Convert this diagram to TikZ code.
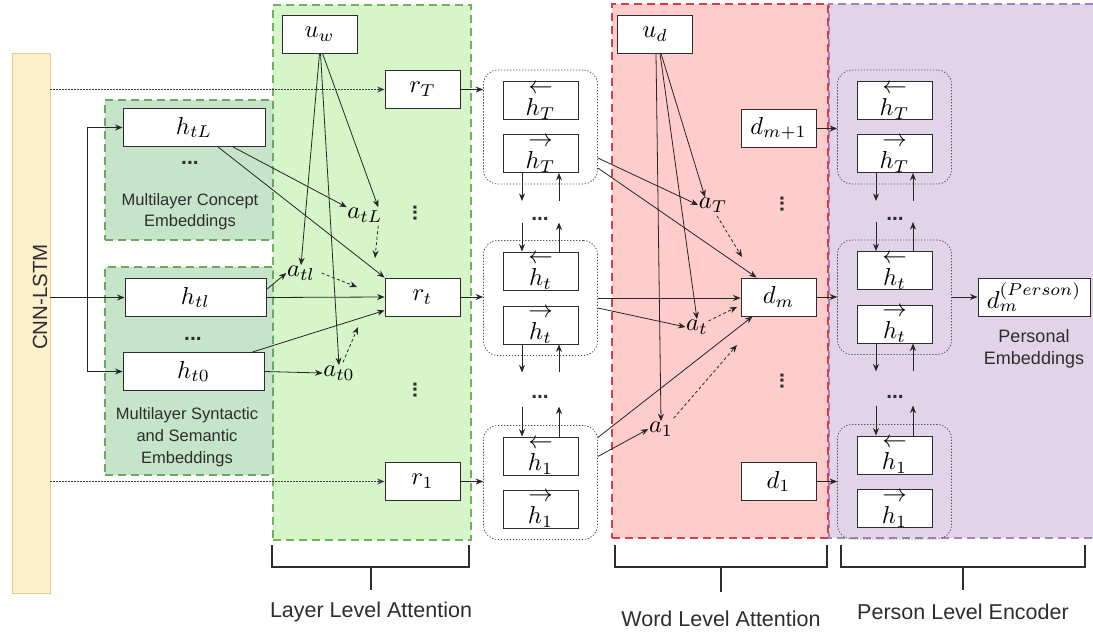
\documentclass[tikz,border=0pt]{standalone}
\usepackage{graphicx}
\usepackage{fontspec}
\setsansfont{Liberation Sans}
\usetikzlibrary{arrows.meta,fit,calc}
\definecolor{cnnfill}{RGB}{255,240,204}
\definecolor{cnnline}{RGB}{232,200,140}
\definecolor{lgfill}{RGB}{214,245,200}
\definecolor{lgline}{RGB}{112,178,92}
\definecolor{cgfill}{RGB}{197,228,201}
\definecolor{cgline}{RGB}{104,170,92}
\definecolor{rdfill}{RGB}{255,204,204}
\definecolor{rdline}{RGB}{214,62,72}
\definecolor{ppfill}{RGB}{226,212,232}
\definecolor{ppline}{RGB}{166,128,186}
\definecolor{boxc}{RGB}{45,45,45}
\definecolor{txtc}{RGB}{45,45,45}
\definecolor{grpc}{RGB}{80,80,80}
\newcommand\Mth[1]{\scalebox{2.45}{$#1$}}
\newcommand\vecL[1]{\mathop{#1}\limits^{\textstyle\leftarrow}}
\newcommand\vecR[1]{\mathop{#1}\limits^{\textstyle\rightarrow}}
\newcommand\sfs{\sffamily\fontsize{16.5}{21}\selectfont}
\begin{document}
\begin{tikzpicture}[x=1pt,y=-1pt,
  box/.style={draw=boxc, fill=white, line width=0.9pt, minimum width=75pt, minimum height=38pt, inner sep=0pt},
  wbox/.style={box, minimum width=142pt},
  lab/.style={inner sep=0.5pt},
  region/.style={line width=1.8pt, dash pattern=on 8pt off 5pt, inner sep=0pt},
  grp/.style={draw=grpc, line width=0.8pt, dash pattern=on 1.3pt off 1.7pt, rounded corners=14pt, inner xsep=19pt, inner ysep=11pt},
  arr/.style={draw=black!85, line width=0.8pt, -{Stealth[length=7.5pt,width=6pt]}},
  darr/.style={arr, dash pattern=on 3pt off 2.5pt},
  dotarr/.style={arr, draw=black!75, dash pattern=on 1.5pt off 1.5pt},
  hdots/.style={font=\sffamily\bfseries\fontsize{21}{21}\selectfont, text=txtc, inner sep=0pt},
  vdot/.style={hdots, rotate=90},
  txt/.style={font=\sfs, text=txtc, align=center},
  brk/.style={draw=boxc, line width=1.1pt},
  bl/.style={font=\sffamily\fontsize{21.5}{24}\selectfont, text=txtc}]
\useasboundingbox (0,0) rectangle (1093,635);

% ---- background regions
\node[draw=cnnline, fill=cnnfill, line width=0.8pt, minimum width=38pt, minimum height=540pt, inner sep=0pt] (cnn) at (31,323) {};
\node[rotate=90, font=\sffamily\fontsize{20.5}{22}\selectfont, text=txtc] (cnnlab) at (40,297) {CNN-LSTM};

\node[region, fill=lgfill, draw=lgline, minimum width=198pt, minimum height=535pt] (layreg) at (372,272.5) {};
\node[region, fill=cgfill, draw=cgline, minimum width=168pt, minimum height=140pt] (congrp) at (189,170) {};
\node[region, fill=cgfill, draw=cgline, minimum width=168pt, minimum height=208pt] (syngrp) at (189,371) {};

\fill[ppfill] (828,4) rectangle (1093,538);
\draw[region, draw=ppline] (1093,4) -- (829,4) -- (829,538) -- (1093,538);
\node[region, fill=rdfill, draw=rdline, minimum width=216pt, minimum height=534pt] (wordreg) at (720,271) {};

% ---- left embeddings
\node[wbox] (htL) at (194,127.5) {\Mth{h_{tL}}};
\node[hdots] (cd1) at (190,163) {...};
\node[txt] (contxt) at (190,212) {Multilayer Concept\\Embeddings};
\node[wbox, minimum width=141pt] (htl) at (195.5,297.5) {\Mth{h_{tl}}};
\node[hdots] (cd2) at (193,339) {...};
\node[wbox, minimum width=141pt] (ht0) at (193.5,371.5) {\Mth{h_{t0}}};
\node[txt, font=\sffamily\fontsize{16.5}{22}\selectfont] (syntxt) at (187,437) {Multilayer Syntactic\\and Semantic\\Embeddings};

% ---- layer level attention
\node[box] (uw) at (319.5,34) {\Mth{u_w}};
\node[box] (rT) at (422.5,89.5) {\Mth{r_T}};
\node[box] (rt) at (422.5,297) {\Mth{r_t}};
\node[box] (r1) at (422.5,481.5) {\Mth{r_1}};
\node[lab] (atL) at (365,215) {\Mth{a_{tL}}};
\node[lab] (atl) at (301,273) {\Mth{a_{tl}}};
\node[lab] (at0) at (339,373) {\Mth{a_{t0}}};
\node[vdot] (vd1) at (415,213) {...};
\node[vdot] (vd2) at (415,390) {...};

% ---- BiLSTM 1
\node[box] (b1Tl) at (540.5,100.5) {\Mth{\vecL{h_T}}};
\node[box] (b1Tr) at (540.5,153.5) {\Mth{\vecR{h_T}}};
\node[box] (b1tl) at (540.5,271) {\Mth{\vecL{h_t}}};
\node[box] (b1tr) at (540.5,325) {\Mth{\vecR{h_t}}};
\node[box] (b11l) at (540.5,456) {\Mth{\vecL{h_1}}};
\node[box] (b11r) at (540.5,509) {\Mth{\vecR{h_1}}};
\node[grp, fit=(b1Tl)(b1Tr)] (g1T) {};
\node[grp, fit=(b1tl)(b1tr)] (g1t) {};
\node[grp, fit=(b11l)(b11r)] (g11) {};
\node[hdots] (bd1) at (540,219) {...};
\node[hdots] (bd2) at (540,397) {...};

% ---- word level attention
\node[box] (ud) at (655,34) {\Mth{u_d}};
\node[box] (dm1) at (778.5,128.5) {\Mth{d_{m+1}}};
\node[box] (dm) at (778.5,297) {\Mth{d_m}};
\node[box] (d1) at (778.5,481.5) {\Mth{d_1}};
\node[lab] (aT) at (713,205) {\Mth{a_T}};
\node[lab] (at) at (697,327) {\Mth{a_t}};
\node[lab] (a1) at (661,429) {\Mth{a_1}};
\node[vdot] (vd3) at (782,204) {...};
\node[vdot] (vd4) at (782,381) {...};

% ---- BiLSTM 2
\node[box] (b2Tl) at (894.5,100.5) {\Mth{\vecL{h_T}}};
\node[box] (b2Tr) at (894.5,153.5) {\Mth{\vecR{h_T}}};
\node[box] (b2tl) at (894.5,270.5) {\Mth{\vecL{h_t}}};
\node[box] (b2tr) at (894.5,324) {\Mth{\vecR{h_t}}};
\node[box] (b21l) at (894.5,455) {\Mth{\vecL{h_1}}};
\node[box] (b21r) at (894.5,508.5) {\Mth{\vecR{h_1}}};
\node[grp, fit=(b2Tl)(b2Tr)] (g2T) {};
\node[grp, fit=(b2tl)(b2tr)] (g2t) {};
\node[grp, fit=(b21l)(b21r)] (g21) {};
\node[hdots] (bd3) at (895,219) {...};
\node[hdots] (bd4) at (895,397) {...};

\node[box, minimum width=112pt] (dP) at (1034,297) {\Mth{d_m^{(Person)}}};
\node[txt, font=\sffamily\fontsize{18}{22}\selectfont] (petxt) at (1034,349) {Personal\\Embeddings};

% ---- connectors: CNN-LSTM
\draw[arr] (cnn.east |- htl.west) -- (htl.west);
\coordinate (br) at (87,297.5);
\draw[arr] (br) |- (htL.west);
\draw[arr] (br) |- (ht0.west);
\draw[dotarr] (cnn.east |- rT.west) -- (rT.west);
\draw[dotarr] (cnn.east |- r1.west) -- (r1.west);

% ---- connectors: layer attention
\draw[arr] (uw.south) -- (atl.north);
\draw[arr] ([xshift=1]uw.south) -- (at0.north);
\draw[arr] ([xshift=3]uw.south) -- ([xshift=-5]atL.north east);
\draw[arr] ([xshift=39]htL.south) -- (atL.north west);
\draw[arr] ([xshift=24]htL.south) -- (rt.north west);
\draw[arr] ([yshift=8]htl.east) -- (atl.west);
\draw[arr] (htl.east) -- (rt.west);
\draw[arr] ([xshift=-12]ht0.north east) -- ([yshift=6]rt.south west);
\draw[arr] (ht0.east) -- (at0.west);
\coordinate (e1) at (375,258);
\coordinate (e2) at (357,287);
\coordinate (e3) at (358,327);
\draw[darr] ([xshift=-5,yshift=-3]atL.south east) -- (e1);
\draw[darr] ([xshift=6]atl.east) -- (e2);
\draw[darr] ([xshift=4,yshift=3]at0.north) -- (e3);
\draw[arr] (rT.east) -- (rT.east -| g1T.west);
\draw[arr] (rt.east) -- (rt.east -| g1t.west);
\draw[arr] (r1.east) -- (r1.east -| g11.west);

% ---- BiLSTM vertical links
\foreach \c in {b1,b2}{
  \draw[arr] ([xshift=-18.5]\c Tr.south) -- ([xshift=-18.5,yshift=-28]\c Tr.south);
  \draw[arr] ([xshift=18.5,yshift=-28]\c Tr.south) -- ([xshift=18.5]\c Tr.south);
  \draw[arr] ([xshift=-18.5,yshift=29]\c tl.north) -- ([xshift=-18.5]\c tl.north);
  \draw[arr] ([xshift=18.5]\c tl.north) -- ([xshift=18.5,yshift=29]\c tl.north);
  \draw[arr] ([xshift=-18.5]\c tr.south) -- ([xshift=-18.5,yshift=-28]\c tr.south);
  \draw[arr] ([xshift=18.5,yshift=-28]\c tr.south) -- ([xshift=18.5]\c tr.south);
  \draw[arr] ([xshift=-18.5,yshift=30]\c 1l.north) -- ([xshift=-18.5]\c 1l.north);
  \draw[arr] ([xshift=18.5]\c 1l.north) -- ([xshift=18.5,yshift=30]\c 1l.north);
}

% ---- connectors: word attention
\draw[arr] ([xshift=1]ud.south) -- (a1.north);
\draw[arr] ([xshift=5]ud.south) -- (at.north);
\draw[arr] ([xshift=6]ud.south) -- ([xshift=-8]aT.north);
\draw[arr] ([yshift=-31]g1T.east) -- (aT.west);
\draw[arr] ([yshift=-41]g1T.east) -- ([xshift=16]dm.north west);
\draw[arr] (g1t.east) -- (g1t.east -| dm.west);
\draw[arr] ([yshift=-10]g1t.east) -- (at.west);
\draw[arr] ([yshift=45]g11.east) -- ([xshift=12]dm.south west);
\draw[arr] ([yshift=26]g11.east) -- (a1.west);
\coordinate (f1) at (742,257);
\coordinate (f2) at (737,307);
\coordinate (f3) at (737,345);
\draw[darr] ([xshift=4,yshift=-3]aT.south) -- (f1);
\draw[darr] ([yshift=6]at.east) -- (f2);
\draw[darr] ([yshift=3]a1.north east) -- (f3);

% ---- connectors: person level
\draw[arr] (dm1.east) -- (dm1.east -| g2T.west);
\draw[arr] (dm.east) -- (dm.east -| g2t.west);
\draw[arr] (d1.east) -- (d1.east -| g21.west);
\draw[arr] (g2t.east |- dP.west) -- (dP.west);

% ---- bottom brackets
\draw[brk] (272,545) -- (272,567) -- (469,567) -- (469,545);
\draw[brk] (371,567) -- (371,590);
\draw[brk] (615,545) -- (615,567) -- (827,567) -- (827,545);
\draw[brk] (721,567) -- (721,592);
\draw[brk] (841,545) -- (841,567) -- (1085,567) -- (1085,545);
\draw[brk] (963,567) -- (963,590);
\node[bl] (lla) at (371,612) {Layer Level Attention};
\node[bl] (wla) at (721,619) {Word Level Attention};
\node[bl] (ple) at (963,612) {Person Level Encoder};
\end{tikzpicture}
\end{document}
